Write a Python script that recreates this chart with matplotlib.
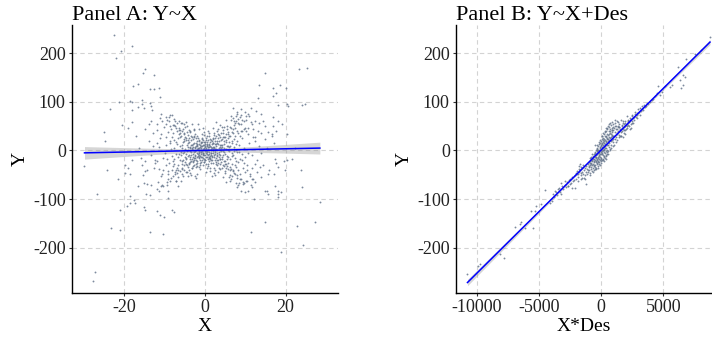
import numpy as np
import matplotlib
matplotlib.use("Agg")
import matplotlib.pyplot as plt

# ---------------- Panel A data: (X, Y) ----------------
outer_a = [(-22.7,237),(-20.8,205),(-18.0,214),(-22.1,191),(-14.8,168),(-15.5,160),(-12.6,156),
 (-16.7,136),(-17.9,132),(-13.7,127),(-12.7,126),(-11.4,128),(-11.2,109),(-18.7,102),(-18.2,100),
 (-21.4,100),(-15.6,104),(-15.7,95),(-13.6,98),(-15.1,88),(-13.5,92),(-13.1,84),(-18.0,84),(-16.6,90),
 (-23.6,85),(-25.1,38),(-24.9,19),(-20.6,52),(-18.0,58),(-19.0,47),(-13.4,60),(-10.9,74),(-8.6,73),
 (-5.7,57),(-3.2,54),(-11.9,54),
 (14.9,160),(13.5,135),(16.9,129),(18.6,134),(20.1,129),(17.5,118),(16.8,112),(13.1,107),(23.2,168),
 (25.3,170),(24.0,93),(24.8,95),(20.3,95),(20.6,92),(18.2,93),(7.0,88),(7.9,76),(7.6,70),(11.4,88),
 (12.7,82),(13.9,75),(10.6,74),(10.0,80),(8.3,57),(12.4,60),(13.3,56),(16.9,69),(18.2,60),(19.2,54),
 (16.9,50),(15.7,39),(20.3,33),(14.9,23),(14.5,60),(11.6,54),(9.9,47),(9.0,40),(10.7,33),(12.4,27),
 (13.2,40),(16.5,33),(17.7,40),(22.3,6),
 (-29.9,-31),(-24.3,-41),(-21.7,-58),(-26.8,-89),(-19.8,-29),(-19.1,-36),(-18.1,-19),(-19.8,-46),
 (-18.6,-48),(-15.6,-29),(-14.8,-22),(-12.3,-19),(-12.7,-36),(-15.0,-43),(-16.6,-72),(-15.2,-67),
 (-14.5,-69),(-13.3,-70),(-14.6,-89),(-13.6,-92),(-11.9,-80),(-11.4,-83),(-10.8,-74),(-9.5,-71),
 (-9.1,-84),(-9.3,-97),(-18.5,-93),(-17.7,-101),(-18.5,-107),(-21.0,-122),(-19.3,-115),(-17.3,-108),
 (-15.2,-116),(-14.8,-122),(-11.9,-125),(-11.1,-133),(-10.1,-137),(-8.3,-122),(-7.7,-126),
 (-23.3,-160),(-21.0,-164),(-13.7,-168),(-10.3,-172),(-27.2,-249),(-27.8,-269),
 (23.7,-41),(24.0,-75),(28.5,-106),(27.3,-146),(22.8,-156),(24.4,-195),(14.9,-146),(11.4,-168),
 (18.9,-208),(20.3,-19),(21.6,-18),(19.5,-22),(17.5,-26),(18.0,-34),(19.8,-41),(17.4,-74),(18.0,-83),
 (18.2,-90),(18.0,-95),(18.9,-86),(15.3,-84),(14.9,-84),(15.7,-90),(12.2,-100),(10.6,-84),(10.0,-85),
 (8.9,-84),(11.6,-75),(12.4,-65),(11.6,-58),(14.0,-55),(15.7,-48),(17.2,-48),(13.7,-34),(12.4,-27),
 (17.4,-17),(7.9,-75),(8.5,-66),(5.3,-65),(6.1,-62),(9.5,-69),(10.1,-62),(3.3,-45),(6.6,-52),(8.3,-41),
 (10.3,-40),(11.2,-48),
 (12.5,20),(13.0,-20),(13.5,10),(14.0,35),(14.5,-30),(15.0,50),(16.0,-40),(17.0,15),(12.8,-45),
 (13.8,-5),(15.5,5),(16.5,30),(-12.5,-25),(-13.0,35),(-13.5,-10),(-14.0,20),(-14.5,-40),(-15.0,45),
 (-16.0,-15),(-17.0,30),(-12.8,10),(-13.8,55),(-15.5,-50),(-16.5,5)]

core_a = [(-11.8,42),(-11.5,-38),(-11.2,25),(-10.9,-52),(-10.6,61),(-10.3,-15),(-11.7,-64),(-10.8,33),
 (-11.4,8),(-10.2,48),(-12.0,-22),(-10.5,-41),(-11.1,66),(-10.7,-70),(-11.9,15),
 (-9.8,55),(-9.6,-30),(-9.3,38),(-9.1,-48),(-8.8,20),(-8.6,-62),(-8.4,44),(-8.2,-12),(-9.9,-5),
 (-9.5,62),(-9.0,-25),(-8.7,50),(-8.3,-40),(-8.1,28),(-9.7,12),(-9.2,-58),(-8.9,68),(-8.5,3),
 (-9.4,-18),(-8.0,-53),
 (-7.9,36),(-7.8,-28),(-7.6,52),(-7.5,-45),(-7.3,18),(-7.2,-8),(-7.0,40),(-6.9,-36),(-6.7,25),
 (-6.6,-55),(-6.4,47),(-6.3,-20),(-6.1,10),(-7.7,5),(-7.4,60),(-7.1,-62),(-6.8,-14),(-6.5,33),
 (-6.2,-42),(-7.9,-32),(-7.0,14),(-6.0,-3),(-6.9,56),(-7.6,-18),(-6.3,28),(-6.6,-30),(-7.3,-40),
 (-6.1,42),(-7.8,22),(-6.4,-8),
 (-5.9,30),(-5.8,-22),(-5.7,12),(-5.6,-38),(-5.5,44),(-5.4,-6),(-5.3,20),(-5.2,-30),(-5.1,36),
 (-5.0,-14),(-4.9,4),(-4.8,-45),(-4.7,26),(-4.6,-18),(-4.5,50),(-4.4,-2),(-4.3,16),(-4.2,-34),
 (-4.1,8),(-4.0,-26),(-5.9,-10),(-5.5,18),(-5.1,-40),(-4.7,-8),(-4.3,32),(-5.7,-48),(-5.3,55),
 (-4.9,-24),(-4.5,12),(-4.1,-12),(-5.6,6),(-5.2,-4),(-4.8,22),(-4.4,38),(-4.0,-40),(-5.8,40),
 (-5.0,28),(-4.6,-28),(-4.2,2),(-5.4,-20),
 (-3.9,18),(-3.8,-14),(-3.7,6),(-3.6,-24),(-3.5,30),(-3.4,-4),(-3.3,12),(-3.2,-18),(-3.1,24),
 (-3.0,-8),(-2.9,2),(-2.8,-30),(-2.7,16),(-2.6,-12),(-2.5,34),(-2.4,-2),(-2.3,10),(-2.2,-20),
 (-2.1,20),(-2.0,-6),(-3.9,-28),(-3.5,-10),(-3.1,-32),(-2.7,-20),(-2.3,26),(-3.7,38),(-3.3,-36),
 (-2.9,14),(-2.5,-16),(-2.1,4),(-3.8,8),(-3.4,22),(-3.0,-22),(-2.6,8),(-2.2,-28),(-3.6,-2),(-3.2,4),
 (-2.8,28),(-2.4,-10),(-2.0,14),(-3.9,42),(-3.5,12),(-3.1,-14),(-2.7,-4),(-2.3,-34),(-3.7,-18),
 (-3.3,28),(-2.9,-24),(-2.5,6),(-2.1,-14),
 (-1.9,12),(-1.8,-8),(-1.7,4),(-1.6,-16),(-1.5,20),(-1.4,-2),(-1.3,8),(-1.2,-12),(-1.1,16),
 (-1.0,-4),(-0.9,2),(-0.8,-20),(-0.7,10),(-0.6,-6),(-0.5,22),(-0.4,0),(-0.3,6),(-0.2,-10),(-0.1,14),
 (0.0,-2),(-1.9,-22),(-1.5,-6),(-1.1,-24),(-0.7,-14),(-0.3,18),(-1.7,26),(-1.3,-20),(-0.9,10),
 (-0.5,-10),(-0.1,2),(-1.8,6),(-1.4,14),(-1.0,-14),(-0.6,4),(-0.2,-18),(-1.6,-4),(-1.2,2),(-0.8,18),
 (-0.4,-6),(0.0,8),(-1.9,30),(-1.3,-30),(-0.7,24),(-0.3,-24),(-1.5,-14),(-0.9,-8),(-0.5,12),(-1.1,6),
 (0.1,10),(0.2,-6),(0.3,4),(0.4,-14),(0.5,18),(0.6,-2),(0.7,8),(0.8,-10),(0.9,14),(1.0,-4),(1.1,2),
 (1.2,-18),(1.3,10),(1.4,-6),(1.5,22),(1.6,0),(1.7,6),(1.8,-12),(1.9,16),(2.0,-2),(0.1,-20),(0.5,-8),
 (0.9,-22),(1.3,-16),(1.7,20),(0.3,26),(0.7,-18),(1.1,12),(1.5,-10),(1.9,4),(0.2,6),(0.6,14),
 (1.0,-14),(1.4,4),(1.8,-20),(0.4,-4),(0.8,2),(1.2,18),(1.6,-6),(2.0,8),(0.3,-28),(0.9,30),(1.5,-26),
 (1.9,26),(0.5,12),(1.1,-8),(1.7,-14),(0.7,22),
 (2.1,16),(2.2,-10),(2.3,6),(2.4,-20),(2.5,26),(2.6,-4),(2.7,10),(2.8,-16),(2.9,20),(3.0,-6),
 (3.1,2),(3.2,-26),(3.3,14),(3.4,-8),(3.5,32),(3.6,0),(3.7,8),(3.8,-18),(3.9,22),(4.0,-2),(2.1,-26),
 (2.5,-8),(2.9,-30),(3.3,-20),(3.7,28),(2.3,36),(2.7,-24),(3.1,16),(3.5,-14),(3.9,6),(2.2,8),(2.6,20),
 (3.0,-20),(3.4,6),(3.8,-28),(2.4,-2),(2.8,4),(3.2,26),(3.6,-10),(4.0,12),(2.3,-36),(2.9,40),
 (3.5,-36),(3.9,36),(2.5,14),(3.1,-12),(3.7,-18),(2.7,30),
 (4.1,24),(4.2,-14),(4.3,8),(4.4,-30),(4.5,36),(4.6,-4),(4.7,14),(4.8,-22),(4.9,28),(5.0,-8),
 (5.1,4),(5.2,-36),(5.3,18),(5.4,-12),(5.5,44),(5.6,2),(5.7,10),(5.8,-26),(5.9,30),(6.0,-2),
 (4.1,-36),(4.5,-10),(4.9,-42),(5.3,-28),(5.7,38),(4.3,48),(4.7,-32),(5.1,22),(5.5,-18),(5.9,8),
 (4.2,12),(4.6,28),(5.0,-28),(5.4,10),(5.8,-38),(4.4,-2),(4.8,6),(5.2,34),(5.6,-14),(6.0,18),
 (6.1,30),(6.2,-18),(6.3,10),(6.4,-38),(6.5,46),(6.6,-6),(6.7,20),(6.8,-28),(6.9,36),(7.0,-10),
 (7.1,4),(7.2,-46),(7.3,24),(7.4,-16),(7.5,56),(7.6,2),(7.7,14),(7.8,-34),(7.9,40),(8.0,-4),
 (6.3,-50),(6.7,-12),(7.1,52),(7.5,-30),(7.9,-56),(6.5,62),(6.9,-40),(7.3,8),(7.7,-22),(6.2,48),
 (7.0,66),(7.4,30),(7.8,60),(6.6,16),(7.2,-2),
 (8.1,36),(8.3,-24),(8.5,12),(8.7,-48),(8.9,54),(9.1,-8),(9.3,26),(9.5,-36),(9.7,44),(9.9,-14),
 (8.2,64),(8.6,-58),(9.0,72),(9.4,-64),(9.8,6),(8.4,-4),(8.8,30),(9.2,-20),(9.6,60),(10.0,-44),
 (8.0,80),(9.0,86),(8.6,68),
 (10.2,40),(10.5,-30),(10.8,16),(11.1,-52),(11.4,58),(11.7,-10),(12.0,28),(10.4,-62),(10.9,70),
 (11.3,-70),(11.8,44),(10.7,-6),(11.6,-36),(10.1,62),(12.0,-58)]

extra_a = [(-0.37,31),(1.26,-35),(-2.61,44),(2.18,-47),(0.83,41),(-1.22,-39),(3.64,52),(-3.41,-50),
 (4.47,-55),(-4.63,58),(0.21,-44),(-0.58,47),(5.23,62),(-5.84,-63),(1.73,-52),(-1.66,55),(2.81,58),
 (-2.24,-57),(6.42,70),(-6.77,-72),(0.47,-37),(-0.16,39),(3.13,45),(-3.72,-46),(1.08,36),(-1.43,-33),
 (2.37,-41),(-2.83,43),(4.81,48),(-4.19,-52),(0.66,3),(-0.81,-1),(0.12,-9),(-0.27,11),(0.94,7),
 (-1.07,-3),(1.41,1),(-1.52,5),(0.33,-13),(-0.44,-15),(1.88,-5),(-1.93,9),(2.46,3),(-2.51,-1),
 (0.05,17),(-0.09,-19),(1.62,13),(-1.76,-11),(2.93,-9),(-2.96,7),(0.71,-27),(-0.73,25),(1.19,23),
 (-1.31,-25),(0.58,29),(-0.62,-29),(2.14,31),(-2.09,-31),(3.37,-3),(-3.29,5),(3.82,11),(-3.86,-9),
 (4.23,-17),(-4.31,21),(4.67,19),(-4.74,-15),(5.08,-21),(-5.13,23),(5.61,25),(-5.66,-27),(6.17,-33),
 (-6.22,35),(6.58,38),(-6.61,-41),(7.04,-43),(-7.09,47),(7.46,46),(-7.52,-49),(7.93,-51),(-7.97,53),
 (8.38,55),(-8.42,-57),(8.83,-59),(-8.87,61),(9.27,63),(-9.33,-65),(9.74,-67),(-9.79,69),(10.26,71),
 (-10.31,-73),(0.29,-2),(-0.33,4),(0.88,-16),(-0.92,18),(1.47,-20),(-1.58,22),(2.03,24),(-2.07,-26),
 (2.67,-28),(-2.72,30),(3.24,33),(-3.18,-35),(3.78,-38),(-3.81,40),(4.36,42),(-4.39,-44),(4.92,-46),
 (-4.97,48),(5.44,51),(-5.48,-53),(5.97,-55),(-6.03,57),(6.53,-59),(-6.49,60),(7.13,61),(-7.18,-63),
 (7.67,-66),(-7.71,64),(8.24,-70),(-8.28,72),(0.17,22),(-0.22,-24),(0.76,-31),(-0.79,33),(1.33,-42),
 (-1.37,44),(1.92,46),(-1.96,-48),(2.56,-50),(-2.58,-52),(0.41,9),(-0.53,-7),(1.16,-11),(-1.18,12),
 (1.57,8),(-1.61,-9),(2.27,-13),(-2.33,15),(2.74,14),(-2.77,-16),(3.46,19),(-3.52,-21),(3.91,-23),
 (-3.94,25),(4.57,27),(-4.52,-29),(5.34,-31),(-5.29,33),(5.76,34),(-5.72,-36),(6.28,-40),(-6.33,42),
 (6.86,44),(-6.91,-46),(7.36,-48),(-7.41,50),(7.82,20),(-7.86,-22),(8.57,-18),(-8.61,16),(9.12,40),
 (-9.08,-42),(9.58,-26),(-9.62,28),(10.62,46),(-10.58,-48)]

# ---------------- Panel B data: (X*Des, Y) ----------------
tail_b = [(-10770,-253),(-9919,-238),(-9785,-234),(-7823,-222),(-8169,-212),(-6960,-157),(-6556,-151),
 (-6153,-159),(-5484,-159),(-5613,-124),(-5210,-114),(-4863,-110),(-4540,-82),(-4137,-107),(-4000,-103),
 (-3871,-90),(-3734,-83),(-3468,-80),(-3200,-90),(-3250,-66),(-2930,-63),(-2710,-73),(-2530,-69),
 (-2260,-63),(-2390,-78),(-2130,-77),(-1984,-49),(-1640,-46),(-1451,-29),(-1800,-32),(-1258,-68),
 (-1559,-56),(-1048,-40),(-915,-26),(-780,-19),(-512,-9),(-243,-6),(-5350,-124),(-6425,-147),
 (-1950,-42),(-1850,-55),(-1750,-38),(-1650,-50),(-1550,-36),(-1900,-62),(-1700,-28),(-1600,-58),
 (8766,233),(8040,206),(7556,198),(6806,189),(6210,172),(6565,155),(6720,152),(6347,145),(6613,135),
 (6427,129),(5677,135),(5570,130),(5125,132),(4548,133),(4468,118),(4300,111),(4740,115),(4870,121),
 (4064,104),(3661,97),(3470,94),(3307,92),(3124,88),(2930,85),(2718,80),(2850,77),(2500,71),(2310,67),
 (2129,61),(1900,57),(1780,60),(1640,52),(1420,48),(1250,44),(1110,51),(860,42),(2180,52),(2580,57),
 (2400,46),(2850,67),(3120,72),
 (-3800,-95),(-3650,-85),(-3550,-92),(-3400,-78),(-3300,-86),(-3150,-74),(-3050,-80),(-2950,-70),
 (-2850,-76),(-2750,-64),(-2650,-72),(-2600,-60),(-2480,-58),(-2420,-66),(-2320,-54),(-2200,-60),
 (-2120,-50),(-2050,-58),(-2000,-46),(-1880,-48),(-1780,-44),(-1680,-40),(-1620,-34),(-1520,-44),
 (1560,30),(1630,38),(1690,46),(1760,44),(1820,42),(1870,54),(1930,50),(1990,44),(2060,54),(2120,50),
 (2200,62),(2280,58),(2380,54),(2420,64),(2520,60),(2620,68),(2680,62),(2760,74),(2800,68),(2900,72),
 (2980,78),(3050,80),(3180,82),(3260,86),(3380,84),(3520,90),(3600,92),(3760,96),(3900,100),(4150,106),
 (1550,44),(1600,30),(1650,50),(1700,40),(1750,56),(1800,36),(1850,48),(1900,60),(1950,42),
 (2000,52),(1580,62),(1720,28),(1880,34),
 (2050,46),(2150,58),(2250,50),(2350,62),(2450,56),(2550,66),(2100,70),(2300,44),(2500,72)]

core_b = [(-1480,-48),(-1420,-56),(-1390,-40),(-1340,-50),(-1300,-36),(-1270,-58),(-1230,-44),
 (-1190,-32),(-1150,-48),(-1110,-38),(-1070,-28),(-1040,-44),(-1010,-34),
 (-990,-24),(-960,-40),(-930,-30),(-900,-46),(-880,-22),(-850,-34),(-820,-14),(-800,-38),(-780,-26),
 (-750,-20),(-730,-42),(-710,-30),(-690,-12),(-670,-28),(-650,-36),(-630,-18),(-610,-24),(-590,-8),
 (-570,-32),(-550,-22),(-530,-14),(-510,-38),(-940,-16),(-870,-50),(-760,-8),(-700,-22),(-640,-44),
 (-580,-30),(-520,-4),(-980,-32),(-830,-28),(-720,-16),(-600,-40),(-540,-18),
 (-495,-20),(-480,-6),(-465,-30),(-450,-14),(-435,2),(-420,-24),(-405,-10),(-390,-36),(-375,-18),
 (-360,4),(-345,-26),(-330,-8),(-315,-20),(-300,6),(-285,-32),(-270,-14),(-255,0),(-240,-22),
 (-225,10),(-210,-4),(-195,-28),(-180,-12),(-165,14),(-150,-18),(-135,2),(-120,-30),(-105,-8),
 (-90,16),(-75,-14),(-60,6),(-45,-22),(-30,20),(-15,-4),(0,10),(-490,-34),(-440,-38),(-370,-2),
 (-310,12),(-260,-36),(-200,18),(-140,-24),(-80,22),(-20,-18),(-470,12),(-400,-16),(-330,-28),
 (-280,-4),(-230,-16),(-170,-2),(-110,8),(-50,-8),(-10,2),(-455,-8),(-385,-22),(-325,0),(-265,-24),
 (-215,-10),(-160,-6),(-95,-20),(-40,12),
 (10,-16),(25,4),(40,24),(55,-6),(70,14),(85,-20),(100,30),(115,0),(130,18),(145,-10),(160,8),
 (175,26),(190,-4),(205,16),(220,34),(235,2),(250,-14),(265,20),(280,10),(295,38),(310,-6),(325,22),
 (340,12),(355,30),(370,-2),(385,18),(400,40),(415,6),(430,26),(445,-8),(460,16),(475,34),(490,2),
 (20,-26),(60,30),(110,-20),(170,-18),(230,-12),(290,-16),(350,-10),(410,-12),(470,-4),(30,16),
 (90,8),(150,22),(210,4),(270,30),(330,6),(390,28),(450,44),(80,-8),(140,36),(200,-22),(260,8),
 (320,40),(380,-18),(440,12),(495,24),(5,2),(50,-2),(120,12),(180,0),(240,24),(300,14),(360,46),
 (420,20),(480,46),
 (510,12),(530,32),(550,-2),(570,24),(590,40),(610,8),(630,28),(650,48),(670,16),(690,36),(710,2),
 (730,26),(750,44),(770,20),(790,34),(810,52),(830,12),(850,30),(870,46),(890,22),(910,38),(930,18),
 (950,54),(970,30),(990,42),(520,50),(560,-8),(620,54),(680,4),(740,56),(800,6),(860,58),(920,10),
 (980,24),(540,20),(600,22),(660,34),(720,40),(780,28),(840,42),(900,32),(960,48),
 (1020,30),(1050,46),(1080,24),(1110,56),(1140,38),(1170,50),(1200,28),(1230,44),(1260,60),
 (1290,34),(1320,50),(1350,40),(1380,58),(1410,32),(1440,48),(1470,54),(1500,42),(1060,12),
 (1180,18),(1300,22),(1420,28),(1120,62),(1240,36),(1360,48),(1480,30)]

title_a = "Panel A: Y~X"
title_b = "Panel B: Y~X+Des"
xlabel_a, xlabel_b, ylabel = "X", "X*Des", "Y"
xticks_a = [-20, 0, 20]
xticks_b = [-10000, -5000, 0, 5000]
yticks = [-200, -100, 0, 100, 200]

plt.rcParams['font.family'] = ['Liberation Serif', 'DejaVu Serif']

pts_a = np.array(outer_a + core_a + extra_a, dtype=float)
pts_b = np.array(tail_b + core_b, dtype=float)

fig = plt.figure(figsize=(7.12, 3.39), dpi=100)
ax_a = fig.add_axes([72/712, 46/339, 266/712, 268/339])
ax_b = fig.add_axes([456/712, 46/339, 256/712, 268/339])

pt_color = '#66768c'

def smooth(ax, x, y):
    n = len(x)
    b, a = np.polyfit(x, y, 1)
    xs = np.linspace(x.min(), x.max(), 200)
    ys = a + b * xs
    resid = y - (a + b * x)
    s = np.sqrt(np.sum(resid**2) / (n - 2))
    sxx = np.sum((x - x.mean())**2)
    hw = 1.96 * s * np.sqrt(1.0 / n + (xs - x.mean())**2 / sxx)
    ax.fill_between(xs, ys - hw, ys + hw, color='#999999', alpha=0.4, lw=0, zorder=3)
    ax.plot(xs, ys, color='#0000ff', lw=1.1, zorder=4)

for ax, pts, title, xl, xt, xlim in [
        (ax_a, pts_a, title_a, xlabel_a, xticks_a, (-33, 33)),
        (ax_b, pts_b, title_b, xlabel_b, xticks_b, (-11694, 8927))]:
    ax.scatter(pts[:, 0], pts[:, 1], s=1.8, color=pt_color, alpha=0.85, lw=0, zorder=2)
    smooth(ax, pts[:, 0], pts[:, 1])
    ax.set_xlim(*xlim)
    ax.set_ylim(-293, 258)
    ax.set_xticks(xt)
    ax.set_xticklabels([str(v) for v in xt])
    ax.set_yticks(yticks)
    ax.set_yticklabels([str(v) for v in yticks])
    ax.grid(True, color='#d3d3d3', lw=0.8, ls=(0, (4, 3)), zorder=0)
    ax.set_axisbelow(True)
    for sp in ['top', 'right']:
        ax.spines[sp].set_visible(False)
    for sp in ['left', 'bottom']:
        ax.spines[sp].set_color('black')
        ax.spines[sp].set_linewidth(1.0)
    ax.tick_params(axis='both', length=2.5, width=0.8, color='#333333', labelsize=13,
                   labelcolor='#222222', pad=2)
    ax.set_xlabel(xl, fontsize=14, labelpad=1)
    ax.set_ylabel(ylabel, fontsize=14, labelpad=3)
    ax.set_title(title, fontsize=16, loc='left', pad=2)

fig.savefig("out.png", dpi=100)
